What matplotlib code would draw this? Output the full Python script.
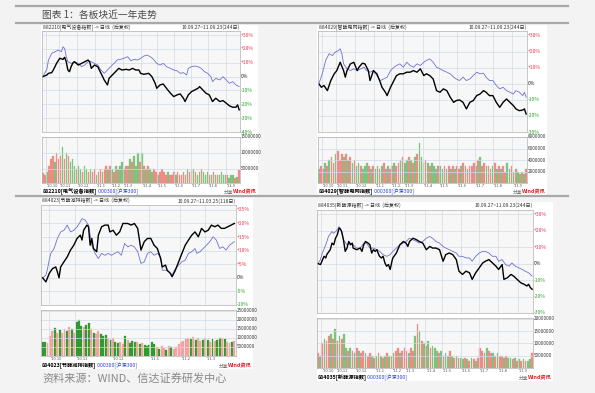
import numpy as np
import matplotlib.pyplot as plt

plt.rcParams['font.family'] = ['Noto Sans CJK SC', 'DejaVu Sans']

W, H = 595, 393

# ---- data (percent change vs start, volume in millions) ----
month_days_full = [4, 20, 42, 65, 84, 99, 122, 141, 162, 183, 204, 227]
month_labels_full = ["'10.10", "'10.11", "'10.12", "'11.1", "'11.2", "'11.3",
                     "'11.4", "'11.5", "'11.6", "'11.7", "'11.8", "'11.9"]
month_days_half = [4, 20, 42, 65, 84, 99]
month_labels_half = month_labels_full[:6]

p1_black = [(0, 0), (5, 1.2), (7, 2.4), (11, 2.9), (13, 4.8), (17, 9.6), (21, 13.3), (25, 12.5),
            (27, 14.0), (29, 10.8), (31, 4.8), (33, 3.6), (35, 7.2), (37, 9.6), (39, 10.8), (44, 8.4),
            (48, 9.6), (52, 10.8), (56, 12.0), (58, 10.8), (60, 6.0), (64, 8.4), (68, 7.2), (72, 2.4),
            (76, -2.4), (80, -6.0), (82, -1.2), (86, 1.2), (90, 3.6), (94, 6.0), (98, 4.8), (103, 5.3),
            (107, 4.8), (111, 6.0), (115, 4.8), (119, 4.8), (121, 2.4), (125, 1.7), (131, 2.4), (135, 0),
            (139, -4.8), (141, -8.4), (145, -6.0), (149, -5.3), (153, -8.4), (158, -12.0), (162, -14.4),
            (166, -13.2), (170, -12.5), (174, -15.6), (176, -18.0), (180, -13.2), (184, -10.8),
            (188, -9.6), (192, -8.4), (194, -7.2), (198, -9.6), (202, -12.0), (206, -13.2), (210, -18.0),
            (214, -15.6), (219, -18.0), (223, -17.3), (227, -19.2), (231, -21.1), (235, -22.1),
            (239, -22.1), (241, -20.4), (243, -24.0)]
p1_hs300 = [(0, 0), (5, 5.3), (7, 12.0), (11, 16.8), (15, 18.0), (19, 19.2), (23, 18.0), (25, 21.6),
            (27, 20.4), (29, 14.4), (31, 10.8), (35, 9.6), (39, 10.8), (44, 9.6), (48, 7.2), (52, 8.4),
            (56, 10.8), (60, 10.8), (64, 9.6), (68, 8.4), (72, 4.8), (76, 2.4), (80, 4.8), (84, 7.2),
            (88, 9.6), (92, 12.0), (96, 12.5), (100, 13.2), (105, 14.4), (109, 11.5), (113, 12.5),
            (117, 12.0), (121, 13.2), (125, 14.9), (129, 15.6), (133, 14.4), (137, 12.5), (141, 9.6),
            (145, 8.4), (149, 9.6), (153, 7.2), (158, 6.0), (162, 4.8), (166, 4.3), (170, 2.4),
            (174, 2.9), (178, 1.2), (180, 6.0), (184, 7.2), (188, 7.7), (192, 7.2), (196, 6.0),
            (200, 3.6), (204, 2.4), (208, 0), (210, -3.6), (214, -1.2), (219, -2.4), (223, 0),
            (227, -2.4), (231, -4.8), (235, -3.6), (239, -6.0), (243, -7.2)]
p1_vol = [3.5, 3, 4, 6, 8, 9, 7, 10, 8, 9, 12, 8, 10, 9, 7, 8, 6, 5, 6, 5, 4, 6, 5, 4, 5, 4, 5, 3, 4, 5,
          4, 5, 6, 5, 6, 5, 4, 6, 5, 6, 7, 5, 6, 6, 8, 7, 9, 6, 10, 7, 10, 6, 5, 6, 5, 4, 5, 4, 3, 4,
          5, 4, 3, 4, 3, 3, 4, 3, 4, 3, 3, 4, 3, 5, 4, 5, 5, 4, 3, 4, 5, 4, 3, 4, 3, 3, 4, 3, 3, 3,
          4, 3, 3, 3, 2, 3, 3, 2, 2.5, 4.5]
p1_updown = "rrgrrrgrrr grgrgggrgg rggrgrrgrr grrgrgrgrg ggrrgrgggr grgrggrrgr rrrgrrrgrr rrrgrrgrgg rgggrgrgrg gggrgggrgr"

p2_black = [(0, 0), (3, -2.1), (6, -1.0), (10, -4.2), (14, 2.1), (18, 6.3), (21, 8.3), (25, 13.5),
            (29, 8.3), (31, 4.2), (33, 8.3), (37, 12.5), (41, 13.5), (45, 8.3), (47, 10.4), (51, 12.9),
            (54, 12.5), (58, 8.3), (60, 2.1), (64, 8.3), (68, 6.3), (72, 1.0), (74, -2.1), (78, -5.2),
            (80, -7.3), (84, -2.1), (88, 2.1), (91, 5.2), (95, 6.3), (99, 6.3), (103, 7.3), (107, 7.3),
            (111, 8.3), (115, 7.3), (119, 9.4), (123, 5.2), (126, 6.3), (130, 5.2), (134, 3.1),
            (138, -4.2), (142, -5.2), (146, -3.1), (150, -4.2), (154, -8.3), (158, -11.5), (161, -10.4),
            (165, -10.0), (169, -11.5), (173, -15.6), (177, -11.5), (181, -10.4), (185, -7.3),
            (189, -6.3), (193, -4.2), (196, -5.2), (200, -7.3), (204, -7.3), (208, -11.5), (212, -14.6),
            (216, -11.5), (220, -9.4), (224, -11.5), (228, -13.5), (231, -15.6), (235, -16.7),
            (239, -16.3), (241, -15.6), (243, -18.8)]
p2_hs300 = [(0, 0), (4, 6.3), (8, 14.6), (12, 18.8), (16, 17.7), (19, 19.8), (23, 20.8), (25, 21.9),
            (27, 18.8), (29, 12.5), (33, 9.4), (37, 8.3), (41, 9.4), (45, 8.3), (49, 9.4), (53, 10.4),
            (56, 8.3), (60, 7.3), (64, 8.3), (68, 5.2), (72, 2.1), (76, 3.1), (80, 4.2), (84, 8.3),
            (88, 10.4), (91, 11.5), (95, 12.5), (99, 10.4), (103, 13.5), (107, 11.5), (111, 10.4),
            (115, 12.5), (119, 11.5), (123, 13.5), (126, 14.6), (130, 15.6), (134, 13.5), (138, 10.4),
            (142, 9.4), (146, 8.3), (150, 7.3), (154, 6.3), (158, 4.2), (161, 3.1), (165, 2.1),
            (169, 4.2), (173, 2.1), (177, 3.1), (181, 5.2), (185, 7.3), (189, 6.3), (193, 6.7),
            (196, 4.2), (200, 2.1), (204, 2.1), (208, -1.0), (212, -3.1), (216, -2.1), (220, -4.2),
            (224, -5.2), (228, -6.3), (231, -4.2), (235, -5.2), (239, -7.3), (241, -5.2), (243, -8.3)]
p2_vol = [2.5, 3, 2.5, 3.5, 3, 4, 4.5, 3.5, 5, 5.5, 4, 5, 4.5, 5, 4, 4.5, 3.5, 4, 3, 3.5,
          3, 2.5, 3, 3.5, 3, 2.5, 3, 2.5, 3, 2.5, 3, 3.5, 2.5, 3, 2.5, 3, 3.5, 3, 3.5, 4,
          4.5, 3.5, 4, 4.5, 4, 3.5, 4.5, 5, 7, 4.5, 3.5, 4, 3.5, 3, 3.5, 3, 2.5, 3, 3, 2.5,
          3, 2.5, 3, 2.5, 3, 2.5, 3, 2.5, 3, 3.5, 3, 2.5, 3, 3, 3.5, 3, 4, 4.5, 3, 3.5,
          3, 3, 2.5, 3, 3.5, 2.5, 3, 2.5, 3, 2, 3.5, 2.5, 3, 2, 2.5, 2, 1.5, 2, 1.5, 2.5]
p2_updown = "grrgrgrrgr rrgrgrgrgg rgggrgrggr grrgrrgrrg rggrgrgrgg grgrgggrgg rgrgrgrrgr rgrrrgrgrr grrgrgrgrr ggrgrggrgr"

p3_black = [(0, 0), (2, -1.5), (4, 1.6), (6, 3.4), (8, 4.0), (9, 2.2), (10, 0), (11, 4.0), (13, 5.9),
            (15, 7.7), (17, 10.2), (19, 12.0), (21, 14.5), (23, 15.7), (24, 13.9), (25, 17.5),
            (27, 19.4), (28, 18.8), (29, 12.0), (30, 14.5), (31, 10.8), (33, 9.6), (34, 15.7),
            (36, 18.8), (38, 19.4), (40, 19.4), (41, 16.9), (43, 17.5), (45, 15.7), (47, 16.9),
            (49, 20.0), (52, 20.0), (54, 19.4), (56, 20.0), (58, 18.2), (60, 10.2), (62, 13.3),
            (64, 14.5), (66, 14.5), (68, 12.0), (70, 10.8), (72, 7.1), (73, 4.0), (75, 4.7), (76, 2.8),
            (78, 1.6), (79, 0.4), (81, 2.8), (83, 5.9), (85, 9.0), (87, 12.0), (89, 13.9), (91, 15.7),
            (93, 16.9), (95, 15.1), (97, 18.2), (99, 16.9), (101, 17.5), (103, 19.4), (105, 18.8),
            (107, 19.4), (109, 18.2), (111, 18.2), (113, 18.8), (115, 19.4), (117, 20.0)]
p3_hs300 = [(0, 0), (2, 1.0), (3, 3.4), (4, 6.5), (5, 9.0), (7, 10.8), (9, 14.5), (11, 16.9),
            (13, 17.5), (15, 19.4), (16, 18.2), (17, 16.9), (19, 17.5), (21, 18.8), (23, 20.6),
            (24, 21.8), (26, 21.2), (28, 19.4), (30, 12.0), (32, 9.0), (34, 7.1), (36, 9.0), (38, 8.3),
            (40, 9.0), (42, 8.3), (44, 9.0), (46, 9.6), (48, 8.3), (50, 12.6), (52, 11.4), (54, 12.0),
            (56, 11.4), (58, 9.6), (60, 5.3), (62, 5.9), (64, 9.0), (66, 9.6), (68, 8.3), (70, 9.0),
            (72, 7.7), (73, 2.8), (75, 2.8), (77, 2.2), (79, 1.0), (81, 3.4), (83, 4.7), (85, 5.9),
            (87, 6.5), (89, 9.0), (91, 9.6), (93, 10.8), (94, 9.0), (96, 9.6), (98, 10.8), (100, 12.0),
            (102, 13.3), (104, 15.1), (106, 13.9), (108, 10.8), (110, 11.4), (112, 10.2), (114, 12.0),
            (117, 13.3)]
p3_vol = [7.5, 8, 7, 11, 14, 15.5, 13, 14.5, 13, 15, 14, 16, 15, 13, 19, 20, 16.5, 16, 17, 18.5,
          15, 13, 12, 14, 12, 11, 11.5, 10, 9, 10, 8, 7, 7.5, 6.5, 11, 9, 7, 8.5, 7.5, 8,
          6.5, 7, 6, 5.5, 6, 7.5, 6.5, 5, 4, 5.5, 4.5, 3.5, 5.5, 5, 4, 5, 6.5, 7.5, 8.5, 9.5,
          10, 9.5, 10.5, 9, 10, 8.5, 9, 10, 9, 8, 9.5, 8.5, 9, 10, 10, 9.5, 7.5, 7, 7.5, 8.5]
p3_updown = "ggrrrgrgrr grgrgggrgg rgrrgggrgr ggrrgrgggr grgggggrgr rgrgrrrrrr rgrgrrgrgr grggrgrrgr"

p4_black = [(0, 0), (3, -0.6), (7, 4.4), (9, 3.4), (10, 5.4), (14, 8.4), (16, 12.4), (18, 11.4),
            (20, 15.4), (22, 17.4), (24, 21.4), (25, 21.4), (27, 19.4), (29, 14.4), (31, 7.4), (33, 9.4),
            (35, 13.4), (37, 11.4), (39, 12.4), (40, 9.4), (44, 8.4), (48, 9.4), (50, 7.4), (52, 11.4),
            (54, 13.4), (57, 12.4), (59, 11.4), (61, 6.4), (63, 8.4), (65, 7.4), (67, 8.4), (69, 5.4),
            (70, 4.4), (72, 3.4), (74, 4.4), (76, 0.4), (78, -1.6), (80, -0.6), (82, -3.6), (84, 1.4),
            (85, 3.4), (89, 6.4), (93, 11.4), (97, 13.4), (100, 12.4), (102, 10.4), (104, 13.4),
            (108, 15.4), (112, 14.4), (115, 13.4), (119, 12.4), (123, 8.4), (127, 10.4), (130, 9.4),
            (134, 9.4), (138, 8.4), (142, 1.4), (145, 5.4), (149, 6.4), (153, 5.4), (157, 2.4),
            (160, -4.6), (164, -6.6), (168, -4.6), (172, -5.6), (175, -9.6), (179, -5.6), (183, -2.6),
            (187, 0.4), (190, 1.4), (194, 2.4), (198, 0.4), (202, -1.6), (205, -3.6), (209, -0.6),
            (211, -9.6), (215, -8.6), (219, -6.6), (222, -7.6), (226, -9.6), (230, -11.6), (234, -12.6),
            (237, -13.6), (239, -12.6), (241, -14.6), (243, -15.6)]
p4_hs300 = [(0, 0), (3, 2.4), (5, 6.4), (9, 11.4), (12, 16.4), (16, 19.4), (18, 18.4), (22, 20.4),
            (24, 22.4), (25, 21.4), (27, 19.4), (29, 14.4), (33, 11.4), (37, 12.4), (40, 11.4), (44, 9.4),
            (48, 9.4), (52, 12.4), (55, 12.4), (59, 9.4), (63, 9.4), (67, 8.4), (70, 7.4), (74, 5.4),
            (78, 4.4), (82, 5.4), (85, 7.4), (89, 9.4), (93, 11.4), (97, 12.4), (100, 13.4), (104, 15.4),
            (108, 14.4), (112, 13.4), (115, 12.4), (119, 13.4), (123, 15.4), (127, 16.4), (130, 15.4),
            (134, 13.4), (138, 12.4), (142, 10.4), (145, 9.4), (149, 8.4), (153, 7.4), (157, 6.4),
            (160, 4.4), (164, 4.4), (168, 3.4), (172, 3.4), (175, 1.4), (179, 4.4), (183, 6.4),
            (187, 7.4), (190, 7.4), (194, 6.4), (198, 4.4), (202, 4.4), (205, 1.4), (209, 2.4),
            (213, -0.6), (217, -1.6), (220, 0.4), (224, -1.6), (228, -2.6), (232, -3.6), (235, -4.6),
            (239, -5.6), (243, -7.6)]
p4_vol = [6, 5, 10, 12, 11, 13, 14, 12, 16, 11, 13, 12, 14, 8, 7, 8, 7, 6, 8, 7,
          6, 7, 6, 5, 6, 5, 4, 5, 6, 5, 4, 5, 6, 5, 5, 6, 7, 8, 6, 7,
          8, 7, 6, 8, 7, 13, 18, 15, 11, 10, 9, 11, 8, 9, 8, 7, 6, 7, 5, 6,
          5, 7, 5, 4, 5, 4, 4, 3.5, 4, 3.5, 3, 4, 3.5, 3, 4, 8, 7, 6, 8, 7,
          6, 6, 5, 6, 5, 5, 4, 5, 4, 4, 3.5, 4, 3, 3.5, 3, 3.5, 3, 3, 3.5, 6]
p4_updown = "rgrgrrgrgr grggrgrgrg rrgrrgrgrg rgrgrgrrgr rrgrrgrgrg rgrgggrgrg grgrgrggrg rgrgrrrrgr rgrgrrgrgg rgrgrgrggr"

fig = plt.figure(figsize=(W / 100, H / 100), dpi=100, facecolor='#f3f3f3')


def box(x0, y0, x1, y1):
    return [x0 / W, 1 - y1 / H, (x1 - x0) / W, (y1 - y0) / H]


def pct_label(v):
    if v > 0:
        return '+%d%%' % v, '#e8384f'
    if v < 0:
        return '%d%%' % v, '#2aa02a'
    return '0%', '#222222'


def draw_panel(g, rng, code, name, black, hs300, vol, updown, ylim, yticks,
               vlim, vticks, ndays, months, mlabels, red, green):
    bx0, by0, bx1, by1 = g['bg']
    bg = fig.add_axes(box(bx0, by0, bx1, by1), zorder=0)
    bg.set_facecolor('white')
    bg.set_xticks([]); bg.set_yticks([])
    for s in bg.spines.values():
        s.set_visible(False)

    px0, py0, px1, py1 = g['price']
    ax = fig.add_axes(box(px0, py0, px1, py1), zorder=1)
    ax.set_facecolor('#f7f7f7')
    bd = np.array(black).T
    hd = np.array(hs300).T
    ax.plot(hd[0], hd[1], color='#7070d4', lw=0.6)
    ax.plot(bd[0], bd[1], color='black', lw=1.0)
    ax.set_xlim(-1, ndays)
    ax.set_ylim(*ylim)
    ax.set_xticks(months)
    ax.set_yticks(yticks)
    ax.grid(True, color='#cfdbe8', lw=0.5)
    ax.tick_params(length=0, labelbottom=False, labelleft=False)
    for v in yticks:
        t, c = pct_label(v)
        ax.text(1.005, v, t, transform=ax.get_yaxis_transform(), fontsize=3.6,
                color=c, va='center', ha='left')
    for s in ax.spines.values():
        s.set_color('#b0b0b0'); s.set_linewidth(0.5)

    vx0, vy0, vx1, vy1 = g['vol']
    vax = fig.add_axes(box(vx0, vy0, vx1, vy1), zorder=1)
    vax.set_facecolor('#f7f7f7')
    pos = np.linspace(0, ndays - 1, len(vol))
    cols = [red if c == 'r' else green for c in updown.replace(' ', '')]
    vax.bar(pos, vol, width=(ndays - 1) / (len(vol) - 1) * 0.8, color=cols,
            edgecolor=cols, linewidth=0.2)
    vax.set_xlim(-1, ndays)
    vax.set_ylim(*vlim)
    vax.set_xticks(months)
    vax.set_yticks(vticks)
    vax.grid(True, color='#cfdbe8', lw=0.5)
    vax.tick_params(length=0, labelbottom=False, labelleft=False)
    for v in vticks:
        vax.text(1.005, v, '%d' % int(v * 1000000), transform=vax.get_yaxis_transform(),
                 fontsize=3.3, color='#333333', va='center', ha='left')
    for s in vax.spines.values():
        s.set_color('#b0b0b0'); s.set_linewidth(0.5)
    for d, lab in zip(months, mlabels):
        vax.text(d + 1, -0.02, lab, transform=vax.get_xaxis_transform(), fontsize=2.9,
                 color='#555555', va='top', ha='left')

    fig.text((px0 + 1) / W, 1 - g['hdr'] / H, code + '[' + name + '] -> 日线  (后复权)',
             fontsize=3.6, color='#333333', va='center', ha='left')
    fig.text(px1 / W, 1 - g['hdr'] / H, rng, fontsize=3.6, color='#333333',
             va='center', ha='right')

    t1 = fig.text((px0 + 0.5) / W, 1 - g['foot'] / H, code + '[' + name + ']',
                  fontsize=3.8, color='black', fontweight='bold', va='center', ha='left')
    ax.annotate(' 000300[沪深300]', xy=(1, 0.5), xycoords=t1, va='center', ha='left',
                fontsize=3.8, color='#2a3fcf', annotation_clip=False)
    fig.text((bx1 - 1) / W, 1 - g['foot'] / H, 'Wind资讯', fontsize=3.8, color='#e02020',
             fontweight='bold', va='center', ha='right')
    fig.text((bx1 - 25) / W, 1 - g['foot'] / H, '分享', fontsize=3.4, color='#666666',
             va='center', ha='right')


# page decoration
for yy in (6, 23, 196):
    fig.add_artist(plt.Line2D([16 / W, 568 / W], [1 - yy / H, 1 - yy / H],
                              color='#a8a8a8', lw=1.6))
fig.text(42 / W, 1 - 15 / H, '图表 1：各板块近一年走势', fontsize=7, color='#4a4a4a',
         va='center', ha='left')
fig.text(42 / W, 1 - 378 / H, '资料来源：WIND、信达证券研发中心', fontsize=8, color='#888888',
         va='center', ha='left')

red1, green1 = '#f08a84', '#7cc47a'
draw_panel(dict(bg=(41, 25, 258, 195), price=(42, 31, 240, 132), vol=(42, 137, 240, 183),
                hdr=27.5, foot=192),
           '10.09.27~11.09.23(244日)', '882210', '电气设备指数',
           p1_black, p1_hs300, p1_vol, p1_updown, (-40, 33), [30, 20, 10, 0, -10, -20, -30, -40],
           (0.5, 15), [15, 10, 5], 244, month_days_full, month_labels_full, red1, green1)
draw_panel(dict(bg=(317, 25, 547, 195), price=(318, 31, 527, 132), vol=(318, 137, 527, 183),
                hdr=27.5, foot=192),
           '10.09.27~11.09.23(244日)', '884029', '智能电网指数',
           p2_black, p2_hs300, p2_vol, p2_updown, (-30, 33), [30, 20, 10, 0, -10, -20, -30],
           (0, 8), [8, 6, 4, 2], 244, month_days_full, month_labels_full, red1, green1)
draw_panel(dict(bg=(41, 198, 253, 369), price=(41, 205, 236, 305), vol=(41, 310, 236, 356),
                hdr=201, foot=366),
           '10.09.27~11.03.25(118日)', '884023', '节能减排指数',
           p3_black, p3_hs300, p3_vol, p3_updown, (-10, 26.8), [25, 20, 15, 10, 5, 0, -5, -10],
           (0, 25.5), [25, 20, 15, 10, 5], 118, month_days_half, month_labels_half,
           '#f4a2a0', '#2f9a2f')
draw_panel(dict(bg=(317, 202, 553, 381), price=(317, 210, 533, 313), vol=(317, 318, 533, 368),
                hdr=205.5, foot=378),
           '10.09.27~11.09.23(244日)', '884035', '新能源指数',
           p4_black, p4_hs300, p4_vol, p4_updown, (-30, 32.5), [30, 20, 10, 0, -10, -20, -30],
           (0, 20.4), [20, 15, 10, 5], 244, month_days_full, month_labels_full, red1, green1)

fig.savefig('out.png', dpi=100, facecolor=fig.get_facecolor())
